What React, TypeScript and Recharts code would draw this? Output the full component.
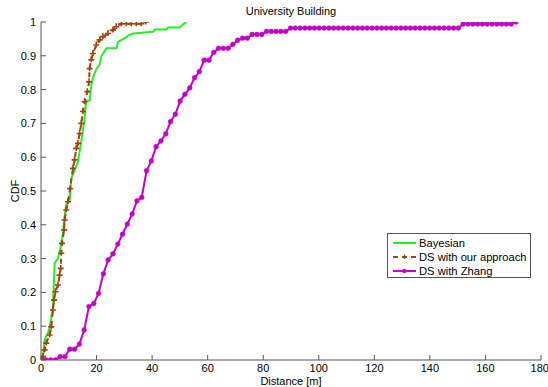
import { LineChart, Line, XAxis, YAxis } from "recharts"

const xTicks = [0, 20, 40, 60, 80, 100, 120, 140, 160, 180]
const yTicks = [0, 0.1, 0.2, 0.3, 0.4, 0.5, 0.6, 0.7, 0.8, 0.9, 1]

// Bayesian
const bayesDist = [
  0, 0.7, 1.3, 2.5, 3.1, 4.3, 4.9, 6.1, 7.1, 7.9, 8.5, 9.1, 10.3, 10.9, 12.1, 13.3, 14.5, 15.7, 16.3, 17.5,
  18.1, 18.8, 20, 21.1, 21.8, 23.6, 27.2, 27.8, 30.2, 31.4, 33.2, 40.4, 41, 45.2, 45.8, 50, 51.2, 52.4,
]
const bayesCdf = [
  0, 0.01, 0.06, 0.08, 0.095, 0.158, 0.286, 0.3, 0.335, 0.375, 0.424, 0.46, 0.47, 0.537, 0.562, 0.587, 0.646,
  0.715, 0.767, 0.767, 0.814, 0.838, 0.862, 0.873, 0.9, 0.922, 0.922, 0.942, 0.952, 0.96, 0.966, 0.971, 0.978,
  0.978, 0.984, 0.984, 0.993, 1,
]

// DS with our approach
const oursDist = [
  0, 0.7, 1.3, 1.9, 3.1, 3.7, 4.3, 4.7, 5.2, 6.1, 6.7, 7.1, 7.3, 7.6, 8.3, 8.5, 9.1, 9.7, 10.5, 11.5, 12.1,
  12.7, 13.3, 13.9, 14.5, 15.1, 15.7, 16.7, 17.3, 17.5, 18.1, 18.7, 19.9, 21.1, 22.3, 24.1, 25.9, 27.1, 28.9,
  30.7, 32.5, 34.3, 36.1, 37.7,
]
const oursCdf = [
  0, 0.01, 0.03, 0.05, 0.074, 0.098, 0.148, 0.177, 0.202, 0.222, 0.251, 0.271, 0.316, 0.345, 0.385, 0.414,
  0.444, 0.468, 0.507, 0.567, 0.592, 0.626, 0.641, 0.67, 0.7, 0.735, 0.764, 0.794, 0.823, 0.862, 0.888, 0.907,
  0.932, 0.947, 0.956, 0.966, 0.976, 0.986, 0.995, 0.995, 0.995, 0.995, 0.995, 1,
]

// DS with Zhang
const zhangDist = [
  0, 1.73, 3.45, 5.18, 6.91, 8.64, 10.36, 12.09, 13.82, 15.55,
  17.27, 19, 20.73, 22.45, 24.18, 25.91, 27.64, 29.36, 31.09, 32.82,
  34.55, 36.27, 38, 39.73, 41.45, 43.18, 44.91, 46.64, 48.36, 50.09,
  51.82, 53.55, 55.27, 57, 58.73, 60.45, 62.18, 63.91, 65.64, 67.36,
  69.09, 70.82, 72.55, 74.27, 76, 77.73, 79.45, 81.18, 82.91, 84.64,
  86.36, 88.09, 89.82, 91.55, 93.27, 95, 96.73, 98.45, 100.18, 101.91,
  103.64, 105.36, 107.09, 108.82, 110.55, 112.27, 114, 115.73, 117.45, 119.18,
  120.91, 122.64, 124.36, 126.09, 127.82, 129.55, 131.27, 133, 134.73, 136.45,
  138.18, 139.91, 141.64, 143.36, 145.09, 146.82, 148.55, 150.27, 152, 153.73,
  155.45, 157.18, 158.91, 160.64, 162.36, 164.09, 165.82, 167.55, 169.27, 171,
]
const zhangCdf = [
  0, 0, 0, 0, 0.01, 0.01, 0.032, 0.032, 0.047, 0.089,
  0.158, 0.167, 0.197, 0.255, 0.296, 0.314, 0.343, 0.372, 0.402, 0.432,
  0.471, 0.481, 0.56, 0.589, 0.631, 0.648, 0.669, 0.705, 0.727, 0.766,
  0.786, 0.805, 0.835, 0.853, 0.887, 0.887, 0.91, 0.922, 0.922, 0.922,
  0.934, 0.946, 0.952, 0.952, 0.963, 0.963, 0.963, 0.972, 0.972, 0.972,
  0.972, 0.972, 0.982, 0.982, 0.982, 0.982, 0.982, 0.982, 0.982, 0.982,
  0.982, 0.982, 0.982, 0.982, 0.982, 0.982, 0.982, 0.982, 0.982, 0.982,
  0.982, 0.982, 0.982, 0.982, 0.982, 0.982, 0.982, 0.982, 0.982, 0.982,
  0.982, 0.982, 0.982, 0.982, 0.982, 0.982, 0.982, 0.982, 0.994, 0.994,
  0.994, 0.994, 0.994, 0.994, 0.994, 0.994, 0.994, 0.994, 0.994, 1,
]

const zip = (xs: number[], ys: number[]) => xs.map((x, i) => ({ x, y: ys[i] }))

const GREEN = "#22f022"
const BROWN = "#a3420e"
const MAGENTA = "#c200c8"
const AXIS = "#555"
const FONT = "'Liberation Sans', Arial, Helvetica, sans-serif"

const series = [
  { name: "Bayesian", color: GREEN, dash: undefined as string | undefined, marker: "none" },
  { name: "DS with our approach", color: BROWN, dash: "5 4", marker: "plus" },
  { name: "DS with Zhang", color: MAGENTA, dash: undefined as string | undefined, marker: "circle" },
]

const PlusDot = (props: any) => {
  const { cx, cy, key } = props
  if (cx == null || cy == null) return <g key={key} />
  return (
    <path
      key={key}
      d={`M${cx - 3},${cy}H${cx + 3}M${cx},${cy - 3.5}V${cy + 2.5}`}
      stroke={BROWN}
      strokeWidth={1.6}
      fill="none"
    />
  )
}

const tickStyle = { fontSize: 11, fill: "#000", fontFamily: FONT }

function LegendBox() {
  return (
    <div
      style={{
        position: "absolute",
        left: 387,
        top: 233,
        width: 144,
        height: 45,
        border: `1px solid ${AXIS}`,
        background: "#fff",
        fontFamily: FONT,
        fontSize: 11.2,
        boxSizing: "border-box",
        paddingTop: 2,
      }}
    >
      {series.map((s) => (
        <div key={s.name} style={{ display: "flex", alignItems: "center", height: 14 }}>
          <svg width={30} height={10} style={{ marginLeft: 4 }}>
            <line x1={1} y1={5} x2={24} y2={5} stroke={s.color} strokeWidth={2} strokeDasharray={s.dash} />
            {s.marker === "circle" && <circle cx={12.5} cy={5} r={2.2} fill={s.color} />}
            {s.marker === "plus" && (
              <path d="M10,5H15M12.5,2.5V7" stroke={s.color} strokeWidth={1.4} />
            )}
          </svg>
          <span style={{ marginLeft: -3 }}>{s.name}</span>
        </div>
      ))}
    </div>
  )
}

export default function App() {
  return (
    <div style={{ position: "absolute", left: 0, top: 0, width: 548, height: 387, background: "#fff" }}>
      <LineChart width={548} height={387} margin={{ top: 22, right: 7, bottom: 0, left: 0 }}>
        <XAxis
          xAxisId="b"
          dataKey="x"
          type="number"
          domain={[0, 180]}
          ticks={xTicks}
          height={27}
          tickSize={-5}
          tickMargin={9}
          stroke={AXIS}
          tick={tickStyle}
          allowDataOverflow
        />
        <XAxis
          xAxisId="t"
          orientation="top"
          dataKey="x"
          type="number"
          domain={[0, 180]}
          ticks={xTicks}
          height={0}
          tickSize={-5}
          tick={false}
          stroke={AXIS}
          allowDataOverflow
        />
        <YAxis
          yAxisId="l"
          dataKey="y"
          type="number"
          domain={[0, 1]}
          ticks={yTicks}
          width={41}
          tickSize={-5}
          tickMargin={10}
          stroke={AXIS}
          tick={tickStyle}
          allowDataOverflow
        />
        <YAxis
          yAxisId="r"
          orientation="right"
          dataKey="y"
          type="number"
          domain={[0, 1]}
          ticks={yTicks}
          width={0}
          tickSize={-5}
          tick={false}
          stroke={AXIS}
          allowDataOverflow
        />
        <Line
          xAxisId="b"
          yAxisId="l"
          data={zip(zhangDist, zhangCdf)}
          dataKey="y"
          name="DS with Zhang"
          type="linear"
          stroke={MAGENTA}
          strokeWidth={2}
          dot={{ r: 2.4, fill: MAGENTA, stroke: MAGENTA, strokeWidth: 0.5 }}
          isAnimationActive={false}
        />
        <Line
          xAxisId="b"
          yAxisId="l"
          data={zip(bayesDist, bayesCdf)}
          dataKey="y"
          name="Bayesian"
          type="linear"
          stroke={GREEN}
          strokeWidth={2}
          dot={false}
          isAnimationActive={false}
        />
        <Line
          xAxisId="b"
          yAxisId="l"
          data={zip(oursDist, oursCdf)}
          dataKey="y"
          name="DS with our approach"
          type="linear"
          stroke={BROWN}
          strokeWidth={2}
          strokeDasharray="5 4"
          dot={PlusDot}
          isAnimationActive={false}
        />
      </LineChart>
      <div
        style={{
          position: "absolute",
          left: 41,
          width: 500,
          top: 5,
          textAlign: "center",
          fontFamily: FONT,
          fontSize: 11,
          lineHeight: "12px",
          color: "#000",
        }}
      >
        University Building
      </div>
      <div
        style={{
          position: "absolute",
          left: 41,
          width: 500,
          top: 375,
          textAlign: "center",
          fontFamily: FONT,
          fontSize: 11,
          lineHeight: "12px",
          color: "#000",
        }}
      >
        Distance [m]
      </div>
      <div
        style={{
          position: "absolute",
          left: 15,
          top: 191,
          transform: "translate(-50%, -50%) rotate(-90deg)",
          fontFamily: FONT,
          fontSize: 11,
          lineHeight: "12px",
          color: "#000",
        }}
      >
        CDF
      </div>
      <LegendBox />
    </div>
  )
}
